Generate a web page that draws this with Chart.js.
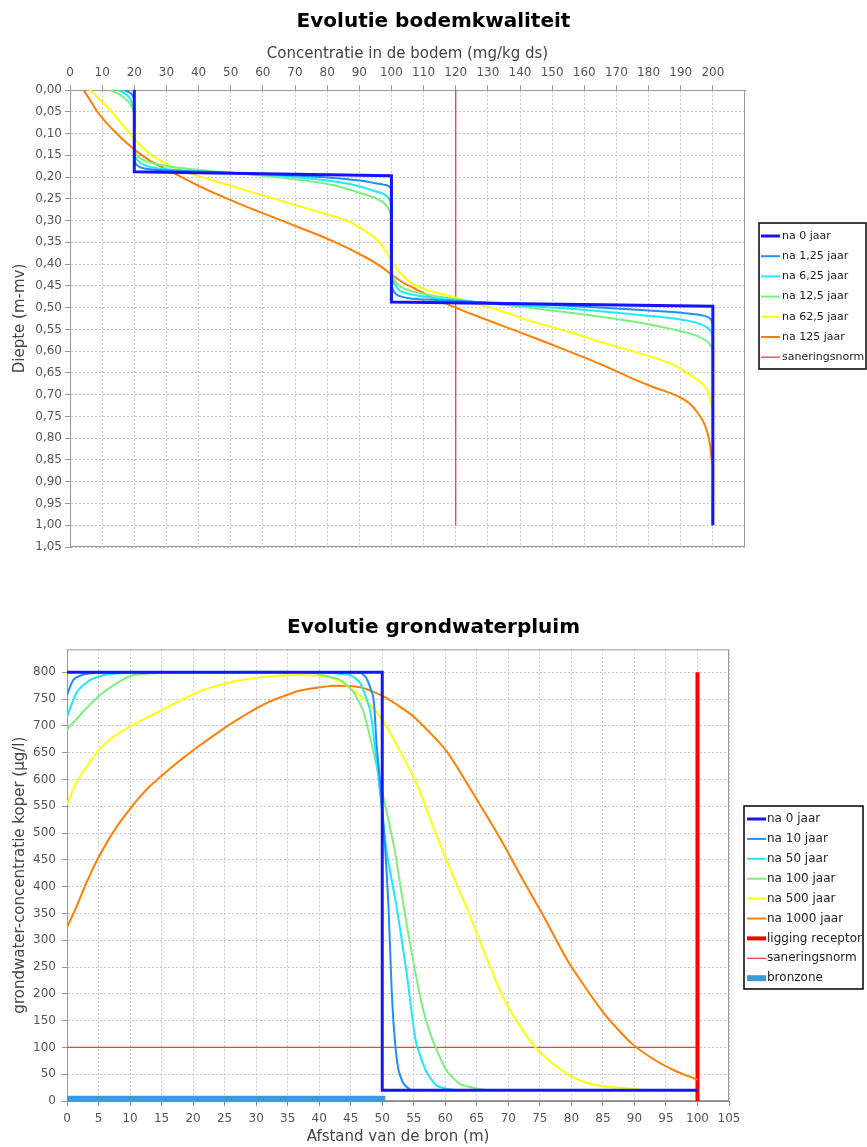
<!DOCTYPE html>
<html>
<head>
<meta charset="utf-8">
<script src="https://cdn.jsdelivr.net/npm/chart.js@4.4.0/dist/chart.umd.min.js"></script>
<style>
  html, body { margin: 0; padding: 0; background: #fff; }
  #wrap { position: relative; width: 867px; height: 1147px; }
  .box { position: absolute; left: 0; width: 867px; }
  #top { top: 0; height: 570px; }
  #bottom { top: 600px; height: 547px; }
</style>
</head>
<body>
<div id="wrap">
  <div class="box" id="top"><canvas id="bodemChart"></canvas></div>
  <div class="box" id="bottom"><canvas id="grondChart"></canvas></div>
</div>
<script>
// ---- bodemkwaliteit: [concentratie (mg/kg ds), diepte (m-mv)] ----
var bodemLabels = ["na 0 jaar", "na 1,25 jaar", "na 6,25 jaar", "na 12,5 jaar", "na 62,5 jaar", "na 125 jaar", "saneringsnorm"];
var bodem0 = [[20,0],[20,0.188],[100,0.197],[100,0.487],[200,0.497],[200,1.0]];
var bodem1_25 = [[17,0],[19,0.008],[19.9,0.02],[20,0.05],[20,0.155],[20.5,0.17],[22,0.178],[26,0.183],[35,0.186],[50,0.19],[65,0.195],[80,0.201],[90,0.208],[95,0.214],[98.5,0.219],[99.8,0.226],[100,0.24],[100,0.44],[100.5,0.46],[102,0.472],[106,0.479],[115,0.483],[130,0.488],[150,0.494],[170,0.502],[185,0.509],[193,0.514],[197.5,0.519],[199.3,0.526],[200,0.54],[200,1.0]];
var bodem6_25 = [[15,0],[17.5,0.01],[19.2,0.027],[20,0.05],[20,0.145],[20.8,0.16],[23,0.172],[27,0.18],[35,0.185],[50,0.19],[65,0.197],[78,0.206],[87,0.216],[93.5,0.229],[97.5,0.239],[99.3,0.25],[100,0.27],[100,0.425],[100.7,0.443],[102.8,0.462],[108,0.472],[118,0.482],[135,0.493],[155,0.502],[175,0.515],[188,0.525],[195,0.535],[198.5,0.547],[199.8,0.56],[200,0.575],[200,1.0]];
var bodem12_5 = [[12.5,0],[15.6,0.011],[18.2,0.027],[19.5,0.042],[20,0.06],[20,0.135],[20.6,0.148],[22.5,0.16],[26,0.169],[33,0.178],[45,0.187],[60,0.197],[72,0.207],[82,0.219],[90,0.236],[94.5,0.247],[97.8,0.26],[99.6,0.28],[100,0.3],[100,0.415],[100.7,0.435],[102.5,0.45],[106,0.462],[114,0.474],[125,0.486],[140,0.498],[160,0.516],[175,0.532],[187,0.549],[194,0.562],[197.8,0.575],[199.5,0.59],[200,0.605],[200,1.0]];
var bodem62_5 = [[6.2,0],[9,0.02],[12.5,0.046],[15,0.068],[17.7,0.092],[20.3,0.115],[23,0.135],[26,0.153],[32,0.176],[40.5,0.199],[50.9,0.222],[61.3,0.245],[71.7,0.268],[82,0.29],[86,0.3],[89,0.311],[92,0.325],[94.5,0.338],[96.5,0.352],[98,0.367],[99.2,0.382],[100.2,0.396],[101.2,0.407],[103.8,0.428],[106,0.443],[109,0.454],[114,0.466],[119.4,0.476],[127,0.492],[135,0.51],[143.3,0.531],[155.8,0.557],[164,0.577],[175,0.6],[184.8,0.623],[190,0.64],[193,0.655],[196.3,0.672],[198.3,0.69],[199.2,0.71],[199.6,0.725],[200,0.74],[200,1.0]];
var bodem125 = [[4.2,0],[6.2,0.023],[8.5,0.05],[11.4,0.076],[14,0.096],[16.6,0.115],[20.8,0.141],[25,0.163],[30.1,0.183],[40.5,0.222],[50.9,0.256],[61.3,0.287],[71.7,0.317],[82,0.348],[92.4,0.386],[97,0.407],[100.7,0.428],[104,0.444],[108,0.459],[113,0.478],[120,0.5],[125,0.515],[135,0.543],[145,0.571],[155,0.6],[165,0.63],[175,0.663],[182,0.684],[187,0.697],[190,0.707],[193,0.722],[195.2,0.741],[197,0.762],[198.3,0.787],[199.2,0.82],[199.6,0.848],[200,0.86],[200,1.0]];
var bodemNorm = [[120,0],[120,1.0]];

// ---- grondwaterpluim: [afstand (m), concentratie (ug/l)] ----
var grondLabels = ["na 0 jaar", "na 10 jaar", "na 50 jaar", "na 100 jaar", "na 500 jaar", "na 1000 jaar", "ligging receptor", "saneringsnorm", "bronzone"];
var grond0 = [[0,800],[50,800],[50,20],[100,20]];
var grond10 = [[0,758],[1,786],[2.6,796],[4.2,799],[10,800],[40,800],[46.5,799],[47.5,789],[48.6,752],[49.1,665],[49.7,590],[50.4,485],[51,361],[51.5,206],[52,113],[52.6,57],[53.4,32],[54.5,21],[56,20]];
var grond50 = [[0,717],[1.6,764],[3.7,786],[6.3,796],[9.5,799],[15,800],[40,800],[44.9,795],[46.5,780],[48.1,727],[49.4,603],[50.7,466],[52.3,361],[53.9,237],[55.3,113],[56.9,57],[58.6,29],[60.2,23],[62,20]];
var grond100 = [[0,693],[2.6,727],[5.3,758],[7.9,780],[10.6,795],[15.9,799],[20,800],[38,800],[43.3,786],[45.4,764],[47,727],[48.6,652],[50.2,566],[51.8,479],[52.6,423],[53.3,370],[54.8,268],[56.4,175],[58,113],[60.2,57],[62.3,32],[65.1,23],[67,20]];
var grond500 = [[0,554],[1.6,597],[3.7,634],[5.3,659],[7.9,684],[10.6,703],[15.8,734],[21.1,765],[26.4,783],[31.7,792],[37,795],[41.2,792],[43.8,780],[47.5,746],[50.2,709],[52.8,653],[55.5,591],[58.1,511],[60.7,435],[63.4,361],[66.1,280],[68.9,200],[71.6,144],[74.3,100],[77,70],[79.7,48],[82.4,34],[85.2,27],[89.5,23],[91,21]];
var grond1000 = [[0,324],[1.3,357],[3,405],[4.75,449],[7.5,505],[10.6,554],[13,586],[15.8,615],[18.5,641],[21.1,664],[26.4,707],[31.7,743],[37,766],[42.3,775],[46.5,772],[50.2,755],[54.9,718],[60.2,653],[65.5,553],[68.9,486],[72.1,417],[75.4,349],[79.7,256],[85.2,163],[89.5,108],[93.3,76],[96.5,56],[99.3,43],[100,40]];
var grondReceptor = [[100,0],[100,800]];
var grondNorm = [[0,100],[100,100]];
var grondBron = [[0,4],[50,4]];

var seriesColors = ["#1414ff", "#1e8fff", "#20e8ff", "#7cf07c", "#ffff00", "#ff7f00"];
var normColor = "#ff3a3a";

Chart.defaults.font.family = "'DejaVu Sans', sans-serif";
Chart.defaults.color = "#444";

function pts(arr) {
  return arr.map(function (p) { return { x: p[0], y: p[1] }; });
}

function line(label, arr, color, width, extra) {
  var ds = {
    label: label,
    data: pts(arr),
    borderColor: color,
    backgroundColor: color,
    borderWidth: width,
    pointRadius: 0,
    tension: 0,
    fill: false
  };
  for (var k in extra) ds[k] = extra[k];
  return ds;
}

// outline round the plot area
var plotFrame = {
  id: "plotFrame",
  beforeDatasetsDraw: function (chart) {
    var a = chart.chartArea, c = chart.ctx;
    c.save();
    c.strokeStyle = "#9a9a9a";
    c.lineWidth = 1;
    c.strokeRect(a.left + 0.5, a.top + 0.5, a.right - a.left - 1, a.bottom - a.top - 1);
    c.restore();
  }
};

// legend in a black box on the right
var boxLegend = {
  id: "boxLegend",
  afterDraw: function (chart, args, o) {
    var c = chart.ctx;
    c.save();
    c.beginPath();
    c.rect(o.left, o.top, o.width, o.height);
    c.clip();
    c.fillStyle = "#fff";
    c.fillRect(o.left, o.top, o.width, o.height);
    chart.data.datasets.forEach(function (ds, i) {
      var y = o.firstY + i * o.rowH;
      c.strokeStyle = ds.borderColor;
      c.lineWidth = ds.legendWidth || ds.borderWidth;
      c.lineCap = "butt";
      c.beginPath();
      c.moveTo(o.lineX1, y);
      c.lineTo(o.lineX2, y);
      c.stroke();
      c.fillStyle = "#222";
      c.font = o.font;
      c.textBaseline = "middle";
      c.fillText(ds.label, o.textX, y);
    });
    c.restore();
    c.save();
    c.strokeStyle = "#000";
    c.lineWidth = 1.5;
    c.strokeRect(o.left, o.top, o.width, o.height);
    c.restore();
  }
};

var gridOpts = { color: "#c8c8c8", lineWidth: 1, drawTicks: true, tickLength: 5, tickColor: "#999", tickBorderDash: [] };
var borderOpts = { display: true, color: "#888", width: 1, dash: [2, 2] };

function spacer(w) {
  return {
    type: "linear", position: "right", display: true,
    grid: { display: false }, border: { display: false }, ticks: { display: false },
    afterFit: function (s) { s.width = w; }
  };
}

// ---------- chart 1: Evolutie bodemkwaliteit ----------
var bodemData = [bodem0, bodem1_25, bodem6_25, bodem12_5, bodem62_5, bodem125];
var bodemSets = bodemData.map(function (arr, i) {
  return line(bodemLabels[i], arr, seriesColors[i], i === 0 ? 3 : 2, { tension: i === 0 ? 0 : 0.2 });
});
bodemSets.push(line(bodemLabels[6], bodemNorm, normColor, 1.3));

new Chart(document.getElementById("bodemChart"), {
  type: "line",
  data: { datasets: bodemSets },
  plugins: [plotFrame, boxLegend],
  options: {
    responsive: true,
    maintainAspectRatio: false,
    animation: false,
    parsing: false,
    layout: { padding: { left: 0, right: 0, top: 0, bottom: 23 } },
    plugins: {
      legend: { display: false },
      tooltip: { enabled: false },
      title: {
        display: true,
        text: "Evolutie bodemkwaliteit",
        color: "#000",
        font: { size: 20, weight: "bold" },
        padding: { top: 10, bottom: 4.6 }
      },
      boxLegend: {
        left: 759, top: 223, width: 107, height: 146,
        firstY: 236, rowH: 20.2, lineX1: 761, lineX2: 780, textX: 782,
        font: "11px 'DejaVu Sans', sans-serif"
      }
    },
    scales: {
      x: {
        type: "linear", position: "top", min: 0, max: 210,
        title: { display: true, text: "Concentratie in de bodem (mg/kg ds)", color: "#444", font: { size: 15 }, padding: { top: 7, bottom: 0 } },
        ticks: { stepSize: 10, autoSkip: false, maxRotation: 0, padding: 5, color: "#555", font: { size: 12 } },
        afterBuildTicks: function (s) { s.ticks = s.ticks.filter(function (t) { return t.value <= 200; }); },
        afterFit: function (s) { s.height = 51.4; },
        grid: gridOpts,
        border: borderOpts
      },
      y: {
        type: "linear", position: "left", reverse: true, min: 0, max: 1.05,
        title: { display: true, text: "Diepte (m-mv)", color: "#444", font: { size: 15 }, padding: { top: 11, bottom: 0 } },
        ticks: {
          stepSize: 0.05, autoSkip: false, padding: 3, color: "#555", font: { size: 12 },
          callback: function (v) { return v.toFixed(2).replace(".", ","); }
        },
        afterFit: function (s) { s.width = 70; },
        grid: gridOpts,
        border: borderOpts
      },
      yRight: spacer(122)
    }
  }
});

// ---------- chart 2: Evolutie grondwaterpluim ----------
var grondData = [grond0, grond10, grond50, grond100, grond500, grond1000];
var grondSets = grondData.map(function (arr, i) {
  return line(grondLabels[i], arr, seriesColors[i], i === 0 ? 3 : 2, { tension: i === 0 ? 0 : 0.2 });
});
grondSets.push(line(grondLabels[6], grondReceptor, "#ff0000", 4));
grondSets.push(line(grondLabels[7], grondNorm, normColor, 1.3));
grondSets.push(line(grondLabels[8], grondBron, "#3d9ad6", 6, { borderCapStyle: "square" }));

new Chart(document.getElementById("grondChart"), {
  type: "line",
  data: { datasets: grondSets },
  plugins: [plotFrame, boxLegend],
  options: {
    responsive: true,
    maintainAspectRatio: false,
    animation: false,
    parsing: false,
    layout: { padding: { left: 0, right: 0, top: 0, bottom: 0 } },
    plugins: {
      legend: { display: false },
      tooltip: { enabled: false },
      title: {
        display: true,
        text: "Evolutie grondwaterpluim",
        color: "#000",
        font: { size: 20, weight: "bold" },
        padding: { top: 16, bottom: 9.3 }
      },
      boxLegend: {
        left: 744, top: 206, width: 119, height: 183,
        firstY: 219, rowH: 19.9, lineX1: 747, lineX2: 766, textX: 767,
        font: "12px 'DejaVu Sans', sans-serif"
      }
    },
    scales: {
      x: {
        type: "linear", position: "bottom", min: 0, max: 105,
        title: { display: true, text: "Afstand van de bron (m)", color: "#444", font: { size: 15 }, padding: { top: 0, bottom: 1 } },
        ticks: { stepSize: 5, autoSkip: false, maxRotation: 0, padding: 6, color: "#555", font: { size: 12 } },
        afterFit: function (s) { s.height = 46; },
        grid: gridOpts,
        border: borderOpts
      },
      y: {
        type: "linear", position: "left", min: 0, max: 843,
        title: { display: true, text: "grondwater-concentratie koper (µg/l)", color: "#444", font: { size: 15 }, padding: { top: 11, bottom: 0 } },
        ticks: { stepSize: 50, autoSkip: false, padding: 6, color: "#555", font: { size: 12 } },
        afterBuildTicks: function (s) { s.ticks = s.ticks.filter(function (t) { return t.value % 50 === 0; }); },
        afterFit: function (s) { s.width = 67; },
        grid: gridOpts,
        border: borderOpts
      },
      yRight: spacer(138)
    }
  }
});
</script>
</body>
</html>
